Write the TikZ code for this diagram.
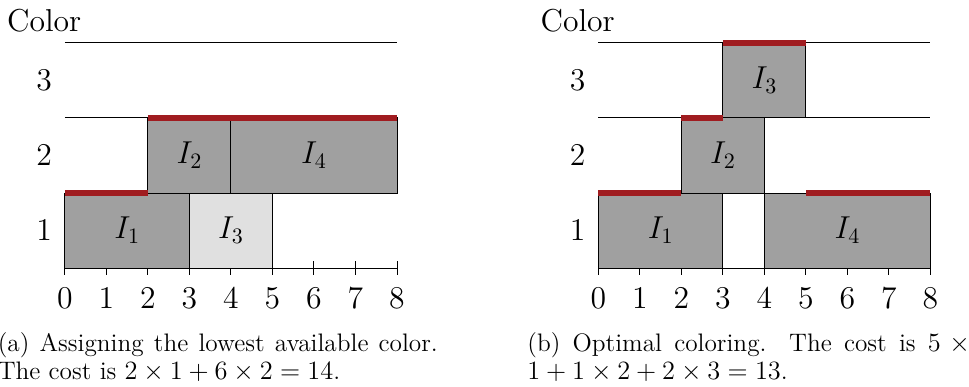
\documentclass[tikz,border=0pt]{standalone}
\usepackage{amsmath}
\usepackage{amssymb}
\usepackage{tikz}
\usetikzlibrary{calc}

\definecolor{costred}{RGB}{160,28,32}
\definecolor{busygray}{RGB}{160,160,160}
\definecolor{lightbusy}{RGB}{224,224,224}

\tikzset{
    ivbox/.style={draw=black, line width=0.45pt},
    costline/.style={draw=costred, line width=2.4pt},
    rowline/.style={line width=0.45pt},
    capline/.style={anchor=base west, font=\fontsize{11.5}{13}\selectfont, inner sep=0pt},
}

\begin{document}
\begin{tikzpicture}[x=18.86pt, y=34.09pt, font=\Large]
            \useasboundingbox (-1.566,-1.573) rectangle (21.783,3.573);

            % (a) lowest available color
            \begin{scope}
                \draw[rowline] (0,1)--(8,1) (0,2)--(8,2) (0,3)--(8,3);
                \foreach \i in {0,...,8}{
                    \draw[rowline] (\i,0) ++(0,3pt) -- ++(0,-6pt);
                    \node (ta\i) at (\i,-0.4) {\(\i\)};
                }
                \foreach \a/\b/\r/\c/\k in {0/3/1/busygray/1,3/5/1/lightbusy/3,2/4/2/busygray/2,4/8/2/busygray/4}{
                    \filldraw[ivbox, fill=\c] (\a,\r-1) rectangle (\b,\r);
                    \node (ia\k) at ({(\a+\b)/2},\r-0.5) {\(I_\k\)};
                }
                \foreach \a/\b/\r in {0/2/1,2/8/2}{
                    \draw[costline] (\a,\r)--(\b,\r);
                }
                \draw[rowline] (0,0)--(8,0);

                \foreach \r in {1,2,3}{
                    \node (ra\r) at (-0.5,\r-0.5) {\(\r\)};
                }
                \node (cola) at (-0.5,3.3) {Color};

                \node[capline] (capa1) at (-1.63,-1.107) {\makebox[200pt][s]{(a) Assigning the lowest available color.}};
                \node[capline] (capa2) at (-1.63,-1.48) {The cost is \(2\times1+6\times2=14\).};
            \end{scope}

            % (b) optimal coloring
            \begin{scope}[shift={(12.855,0)}]
                \draw[rowline] (0,1)--(8,1) (0,2)--(8,2) (0,3)--(8,3);
                \foreach \i in {0,...,8}{
                    \draw[rowline] (\i,0) ++(0,3pt) -- ++(0,-6pt);
                    \node (tb\i) at (\i,-0.4) {\(\i\)};
                }
                \foreach \a/\b/\r/\k in {0/3/1/1,4/8/1/4,2/4/2/2,3/5/3/3}{
                    \filldraw[ivbox, fill=busygray] (\a,\r-1) rectangle (\b,\r);
                    \node (ib\k) at ({(\a+\b)/2},\r-0.5) {\(I_\k\)};
                }
                \foreach \a/\b/\r in {0/2/1,5/8/1,2/3/2,3/5/3}{
                    \draw[costline] (\a,\r)--(\b,\r);
                }
                \draw[rowline] (0,0)--(8,0);

                \foreach \r in {1,2,3}{
                    \node (rb\r) at (-0.5,\r-0.5) {\(\r\)};
                }
                \node (colb) at (-0.5,3.3) {Color};

                \node[capline] (capb1) at (-1.722,-1.107) {\makebox[205pt][s]{(b) Optimal coloring. The cost is \(5\times{}\)}};
                \node[capline] (capb2) at (-1.722,-1.48) {\(1+1\times2+2\times3=13\).};
            \end{scope}
        \end{tikzpicture}
\end{document}
